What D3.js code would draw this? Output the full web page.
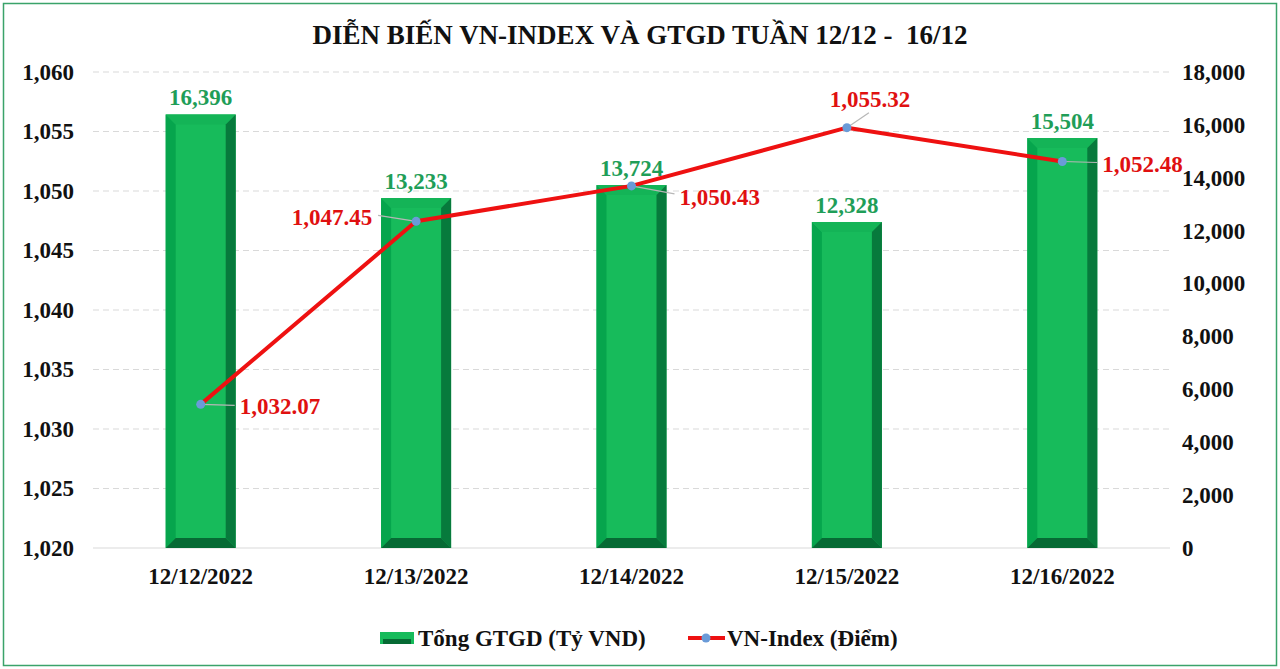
<!DOCTYPE html>
<html>
<head>
<meta charset="utf-8">
<script src="https://cdn.jsdelivr.net/npm/d3@7"></script>
<style>
  body { margin: 0; background: #fff; }
  svg text { font-family: "Liberation Serif", "Times New Roman", serif; font-weight: bold; }
</style>
</head>
<body>
<div id="chart"></div>
<script>
// data
var dates = ["12/12/2022", "12/13/2022", "12/14/2022", "12/15/2022", "12/16/2022"];
var gtgd = [16396, 13233, 13724, 12328, 15504];
var vnIndex = [1032.07, 1047.45, 1050.43, 1055.32, 1052.48];
var leftTicks = [1020, 1025, 1030, 1035, 1040, 1045, 1050, 1055, 1060];
var rightTicks = [0, 2000, 4000, 6000, 8000, 10000, 12000, 14000, 16000, 18000];

function drawChart() {
    var width = 1280, height = 669;
    var mLeft = 93, mRight = 1170, mTop = 72, mBottom = 548;

    // label placement for the index labels: text offset, anchor, leader end offset
    var idxLabelPos = [
        { dx: 39, dy: 2, anchor: "start", lx: 34, ly: 1 },
        { dx: -84, dy: -4, anchor: "middle", lx: -38, ly: -6 },
        { dx: 48, dy: 11, anchor: "start", lx: 43, ly: 8 },
        { dx: 23, dy: -29, anchor: "middle", lx: 22, ly: -15 },
        { dx: 40, dy: 2, anchor: "start", lx: 35, ly: 1 }
    ];

    var svg = d3.select("#chart").append("svg")
        .attr("width", width)
        .attr("height", height);

    // outer border
    svg.append("rect")
        .attr("x", 3.5).attr("y", 3.5)
        .attr("width", width - 7).attr("height", height - 7)
        .attr("fill", "#fff")
        .attr("stroke", "#3aa36a")
        .attr("stroke-width", 1.5);

    // scales
    var x = d3.scaleBand().domain(dates).range([mLeft, mRight]);
    var yL = d3.scaleLinear().domain([1020, 1060]).range([mBottom, mTop]);
    var yR = d3.scaleLinear().domain([0, 18000]).range([mBottom, mTop]);

    // gridlines
    svg.append("g").selectAll("line")
        .data(leftTicks.slice(1))
        .enter().append("line")
        .attr("x1", mLeft).attr("x2", mRight)
        .attr("y1", d => yL(d)).attr("y2", d => yL(d))
        .attr("stroke", "#d9d9d9")
        .attr("stroke-dasharray", "6,4");

    svg.append("line")
        .attr("x1", mLeft).attr("x2", mRight)
        .attr("y1", mBottom).attr("y2", mBottom)
        .attr("stroke", "#d9d9d9");

    // axes
    var axL = svg.append("g")
        .attr("transform", "translate(74,0)")
        .call(d3.axisLeft(yL).tickValues(leftTicks).tickFormat(d3.format(",")).tickSize(0).tickPadding(0));
    var axR = svg.append("g")
        .attr("transform", "translate(1182,0)")
        .call(d3.axisRight(yR).tickValues(rightTicks).tickFormat(d3.format(",")).tickSize(0).tickPadding(0));
    var axB = svg.append("g")
        .attr("transform", "translate(0," + mBottom + ")")
        .call(d3.axisBottom(x).tickSize(0).tickPadding(20));
    [axL, axR, axB].forEach(function(a) {
        a.select(".domain").remove();
        a.selectAll("text")
            .style("font-size", "23px")
            .style("font-family", "Liberation Serif, serif")
            .style("font-weight", "bold")
            .attr("fill", "#111");
    });

    // bars with bevel
    var bw = 70, bev = 10;
    var bars = svg.append("g").selectAll("g")
        .data(dates.map((d, i) => ({ date: d, v: gtgd[i] })))
        .enter().append("g");

    bars.each(function(d) {
        var g = d3.select(this);
        var x0 = x(d.date) + x.bandwidth() / 2 - bw / 2, x1 = x0 + bw;
        var y0 = yR(d.v), y1 = mBottom;
        g.append("rect").attr("x", x0).attr("y", y0).attr("width", bw).attr("height", y1 - y0).attr("fill", "#17bb5b");
        // left
        g.append("path").attr("d", "M" + x0 + "," + y0 + "L" + (x0 + bev) + "," + (y0 + bev) + "L" + (x0 + bev) + "," + (y1 - bev) + "L" + x0 + "," + y1 + "Z").attr("fill", "#06a54d");
        // top
        g.append("path").attr("d", "M" + x0 + "," + y0 + "L" + x1 + "," + y0 + "L" + (x1 - bev) + "," + (y0 + bev) + "L" + (x0 + bev) + "," + (y0 + bev) + "Z").attr("fill", "#14b457");
        // right
        g.append("path").attr("d", "M" + x1 + "," + y0 + "L" + x1 + "," + y1 + "L" + (x1 - bev) + "," + (y1 - bev) + "L" + (x1 - bev) + "," + (y0 + bev) + "Z").attr("fill", "#077a3c");
        // bottom
        g.append("path").attr("d", "M" + x0 + "," + y1 + "L" + x1 + "," + y1 + "L" + (x1 - bev) + "," + (y1 - bev) + "L" + (x0 + bev) + "," + (y1 - bev) + "Z").attr("fill", "#066a34");
        g.append("text")
            .attr("x", x(d.date) + x.bandwidth() / 2)
            .attr("y", y0 - 9)
            .attr("text-anchor", "middle")
            .attr("fill", "#1f9e58")
            .style("font-size", "23px")
            .text(d3.format(",")(d.v));
    });

    // line
    var pts = dates.map((d, i) => ({ date: d, v: vnIndex[i], px: x(d) + x.bandwidth() / 2, py: yL(vnIndex[i]) }));
    svg.append("path")
        .datum(pts)
        .attr("fill", "none")
        .attr("stroke", "#ee1111")
        .attr("stroke-width", 4)
        .attr("stroke-linejoin", "round")
        .attr("d", d3.line().x(d => d.px).y(d => d.py));

    // leader lines + labels
    pts.forEach(function(p, i) {
        var o = idxLabelPos[i];
        svg.append("line")
            .attr("x1", p.px).attr("y1", p.py)
            .attr("x2", p.px + o.lx).attr("y2", p.py + o.ly)
            .attr("stroke", "#b7b7b7").attr("stroke-width", 1.2);
        svg.append("text")
            .attr("x", p.px + o.dx)
            .attr("y", p.py + o.dy)
            .attr("dy", "0.35em")
            .attr("text-anchor", o.anchor)
            .attr("fill", "#e01010")
            .style("font-size", "23px")
            .text(d3.format(",.2f")(p.v));
    });

    svg.append("g").selectAll("circle")
        .data(pts)
        .enter().append("circle")
        .attr("cx", d => d.px).attr("cy", d => d.py)
        .attr("r", 4.5)
        .attr("fill", "#6a9bd8");

    // title
    svg.append("text")
        .attr("x", 640).attr("y", 44)
        .attr("text-anchor", "middle")
        .attr("fill", "#111")
        .style("font-size", "27px")
        .style("white-space", "pre")
        .text("DIỄN BIẾN VN-INDEX VÀ GTGD TUẦN 12/12 -  16/12");

    // legend
    var lg = svg.append("g").attr("transform", "translate(380,638)");
    lg.append("rect").attr("x", 0).attr("y", -6).attr("width", 34).attr("height", 12).attr("fill", "#17bb5b");
    lg.append("rect").attr("x", 3).attr("y", 1).attr("width", 28).attr("height", 5).attr("fill", "#066a34");
    lg.append("text").attr("x", 38).attr("y", 0).attr("dy", "0.35em").attr("fill", "#111").style("font-size", "23px").text("Tổng GTGD (Tỷ VND)");
    lg.append("line").attr("x1", 308).attr("x2", 345).attr("y1", 0).attr("y2", 0).attr("stroke", "#ee1111").attr("stroke-width", 4);
    lg.append("circle").attr("cx", 326).attr("cy", 0).attr("r", 4.5).attr("fill", "#6a9bd8");
    lg.append("text").attr("x", 347).attr("y", 0).attr("dy", "0.35em").attr("fill", "#111").style("font-size", "23px").text("VN-Index (Điểm)");
}

drawChart();
</script>
</body>
</html>
